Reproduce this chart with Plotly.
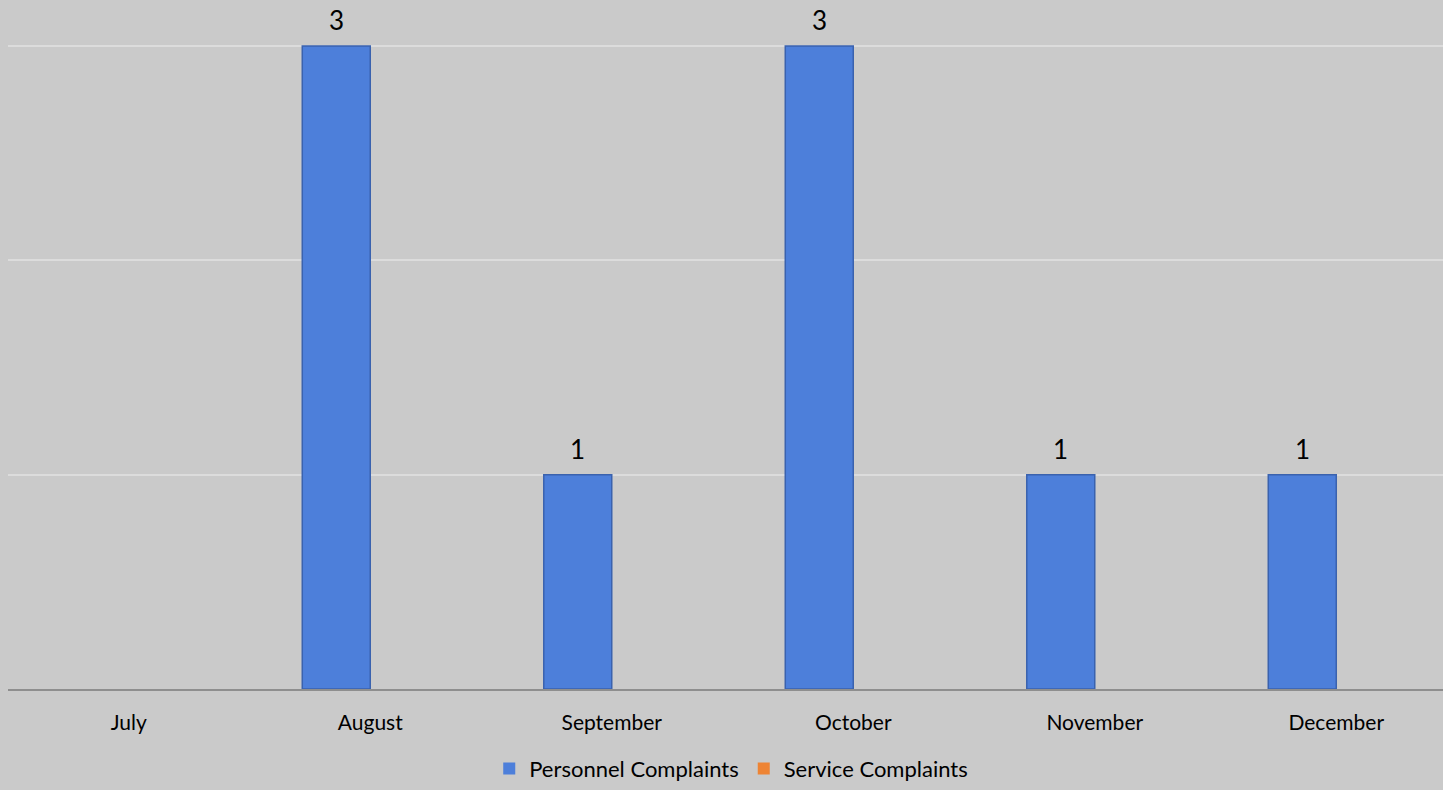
import plotly.graph_objects as go

months = ["July", "August", "September", "October", "November", "December"]
personnel = [0, 3, 1, 3, 1, 1]
service = [0, 0, 0, 0, 0, 0]

BG = "#CACACA"
FONT = "Lato"

fig = go.Figure()
fig.add_trace(go.Bar(
    name="Personnel Complaints",
    x=months, y=personnel,
    marker=dict(color="#4D7FDA",
                line=dict(color="#3A62AE", width=[1.5 if v else 0 for v in personnel])),
))
fig.add_trace(go.Bar(
    name="Service Complaints",
    x=months, y=service,
    marker=dict(color="#EE8434", line=dict(color="#C8682A", width=0)),
))

# data labels above the Personnel bars (offset to the Personnel bar within each group)
for m, v in zip(months, personnel):
    if v:
        fig.add_annotation(x=m, y=v, text=str(v), showarrow=False,
                           xref="x", yref="y", yanchor="bottom", xshift=-34, yshift=8,
                           font=dict(size=26, family=FONT, color="#000000"))

fig.update_layout(
    width=1443, height=790,
    paper_bgcolor=BG, plot_bgcolor=BG,
    margin=dict(l=8, r=0, t=0, b=98),
    barmode="group",
    bargap=0.437, bargroupgap=0,
    font=dict(family=FONT, size=21, color="#000000"),
    showlegend=True,
    legend=dict(orientation="h", x=0.504, xanchor="center", y=-0.1156, yanchor="middle",
                font=dict(size=22, family=FONT), bgcolor="rgba(0,0,0,0)",
                itemwidth=30, traceorder="normal"),
    xaxis=dict(
        range=[-0.5, 5.442],
        showgrid=False, showline=True, linecolor="#8E8E8E", linewidth=2,
        ticks="outside", ticklen=14, tickcolor=BG,
        tickfont=dict(size=21, family=FONT), zeroline=False,
    ),
    yaxis=dict(
        range=[0, 3.214], tickvals=[1, 2, 3], showticklabels=False,
        showgrid=True, gridcolor="#DCDCDC", gridwidth=2, zeroline=False,
        showline=False,
    ),
)

fig.write_html("out.html", config={"displayModeBar": False},
               post_script="document.body.style.margin='0';document.body.style.background='%s';" % BG)
